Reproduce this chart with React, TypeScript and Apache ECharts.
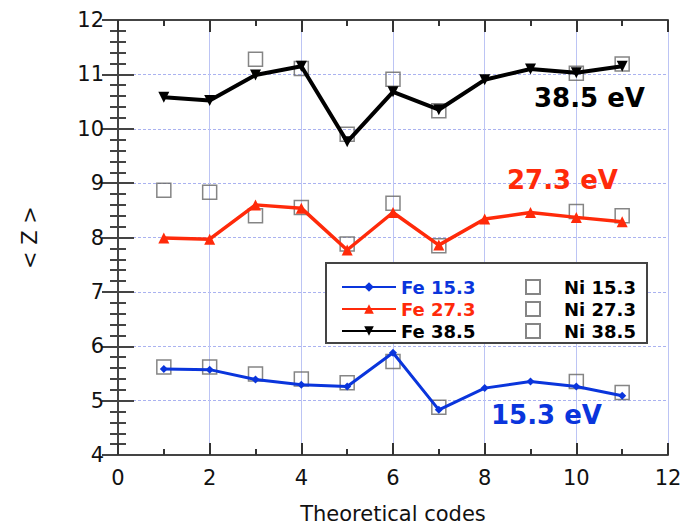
import React, { useEffect, useRef } from "react";
import * as echarts from "echarts";

const codes = [1, 2, 3, 4, 5, 6, 7, 8, 9, 10, 11];
const fe153 = [5.58, 5.57, 5.39, 5.29, 5.26, 5.88, 4.83, 5.23, 5.35, 5.26, 5.09];
const fe273 = [7.99, 7.97, 8.6, 8.54, 7.77, 8.46, 7.86, 8.34, 8.46, 8.37, 8.29];
const fe385 = [10.58, 10.52, 10.99, 11.15, 9.76, 10.68, 10.35, 10.9, 11.1, 11.03, 11.15];
const ni153 = [5.62, 5.62, 5.49, 5.4, 5.33, 5.72, 4.88, null, null, 5.35, 5.15];
const ni273 = [8.87, 8.83, 8.4, 8.55, 7.88, 8.63, 7.85, null, null, 8.48, 8.4];
const ni385 = [null, null, 11.28, 11.11, 9.9, 10.91, 10.33, null, null, 11.02, 11.19];

const BLUE = "#0a35dc";
const RED = "#ff2a0a";
const BLACK = "#000000";
const FONT = "DejaVu Sans";

function pairs(vals: (number | null)[]) {
  const out: [number, number][] = [];
  vals.forEach((v, i) => {
    if (v !== null) out.push([codes[i], v]);
  });
  return out;
}

export default function App() {
  const ref = useRef<HTMLDivElement>(null);
  useEffect(() => {
    document.body.style.margin = "0";
    const chart = echarts.init(ref.current!, null, { renderer: "svg" });
    const axisLine = { show: true, lineStyle: { color: "#444", width: 2 } };
    const niSeries = (name: string, vals: (number | null)[]) => ({
      name,
      type: "scatter",
      data: pairs(vals),
      symbol: "rect",
      symbolSize: 14,
      itemStyle: { color: "rgba(255,255,255,0)", borderColor: "#666", borderWidth: 1.5 },
      z: 2,
    });
    const feSeries = (name: string, vals: number[], color: string, symbol: string, size: number, width: number, rot = 0) => ({
      name,
      type: "line",
      data: pairs(vals),
      symbol,
      symbolSize: size,
      symbolRotate: rot,
      lineStyle: { color, width },
      itemStyle: { color },
      z: 3,
    });
    chart.setOption({
      animation: false,
      backgroundColor: "#ffffff",
      textStyle: { fontFamily: FONT },
      grid: { left: 118, top: 20, width: 550, height: 435, containLabel: false },
      xAxis: [
        {
          type: "value",
          min: 0,
          max: 12,
          interval: 2,
          position: "bottom",
          name: "Theoretical codes",
          nameLocation: "middle",
          nameGap: 48,
          nameTextStyle: { fontSize: 21, color: "#111", fontFamily: FONT },
          axisLine,
          axisTick: { show: true, inside: true, length: 12, lineStyle: { color: "#333", width: 2 } },
          minorTick: { show: true, splitNumber: 2, length: 6, lineStyle: { color: "#333", width: 2 } },
          axisLabel: { fontSize: 21, color: "#111", margin: 12, fontFamily: FONT },
          splitLine: { show: true, lineStyle: { color: "#bcc4f4", width: 1 } },
        },
        {
          type: "value",
          min: 0,
          max: 12,
          interval: 2,
          position: "top",
          axisLine,
          axisTick: { show: true, inside: true, length: 12, lineStyle: { color: "#333", width: 2 } },
          minorTick: { show: true, splitNumber: 2, length: 6, lineStyle: { color: "#333", width: 2 } },
          axisLabel: { show: false },
          splitLine: { show: false },
        },
      ],
      yAxis: [
        {
          type: "value",
          min: 4,
          max: 12,
          interval: 1,
          position: "left",
          name: "< Z >",
          nameLocation: "middle",
          nameGap: 78,
          nameTextStyle: { fontSize: 21, color: "#111", fontFamily: FONT },
          axisLine,
          axisTick: { show: true, inside: true, length: 16, lineStyle: { color: "#444", width: 2 } },
          minorTick: { show: true, splitNumber: 5, length: 8, lineStyle: { color: "#444", width: 2 } },
          axisLabel: { fontSize: 21, color: "#111", margin: 14, fontFamily: FONT },
          splitLine: { show: true, lineStyle: { color: "#aab2f0", width: 1, type: [3, 2] } },
        },
        {
          type: "value",
          min: 4,
          max: 12,
          interval: 1,
          position: "right",
          axisLine,
          axisTick: { show: true, inside: true, length: 16, lineStyle: { color: "#444", width: 2 } },
          minorTick: { show: true, splitNumber: 5, length: 8, lineStyle: { color: "#444", width: 2 } },
          axisLabel: { show: false },
          splitLine: { show: false },
        },
      ],
      legend: [
        {
          orient: "vertical",
          left: 336,
          top: 273,
          itemWidth: 54,
          itemHeight: 12,
          itemGap: 4,
          textStyle: { fontSize: 18, lineHeight: 16, fontWeight: "bold", fontFamily: FONT },
          data: [
            { name: "Fe 15.3", textStyle: { color: BLUE } },
            { name: "Fe 27.3", textStyle: { color: RED } },
            { name: "Fe 38.5", textStyle: { color: BLACK } },
          ],
          z: 10,
        },
        {
          orient: "vertical",
          left: 520,
          top: 273,
          itemWidth: 14,
          itemHeight: 14,
          itemGap: 4,
          textStyle: {
            fontSize: 18,
            lineHeight: 16,
            fontWeight: "bold",
            color: "#000",
            fontFamily: FONT,
            padding: [0, 0, 0, 19],
          },
          data: ["Ni 15.3", "Ni 27.3", "Ni 38.5"],
          z: 10,
        },
      ],
      graphic: [
        {
          type: "rect",
          left: 325,
          top: 262,
          shape: { width: 321, height: 80 },
          style: { fill: "#ffffff", stroke: "#444", lineWidth: 2 },
          z: 5,
        },
        {
          type: "text",
          left: 534,
          top: 85,
          style: { text: "38.5 eV", fill: BLACK, font: `bold 26px '${FONT}'` },
          z: 6,
        },
        {
          type: "text",
          left: 507,
          top: 167,
          style: { text: "27.3 eV", fill: RED, font: `bold 26px '${FONT}'` },
          z: 6,
        },
        {
          type: "text",
          left: 491,
          top: 402,
          style: { text: "15.3 eV", fill: BLUE, font: `bold 26px '${FONT}'` },
          z: 6,
        },
      ],
      series: [
        niSeries("Ni 15.3", ni153),
        niSeries("Ni 27.3", ni273),
        niSeries("Ni 38.5", ni385),
        feSeries("Fe 15.3", fe153, BLUE, "diamond", 8, 3),
        feSeries("Fe 27.3", fe273, RED, "triangle", 11, 3.5),
        feSeries("Fe 38.5", fe385, BLACK, "triangle", 11, 4, 180),
      ],
    });
    return () => chart.dispose();
  }, []);
  return <div ref={ref} style={{ width: 687, height: 529, position: "absolute", left: 0, top: 0 }} />;
}
